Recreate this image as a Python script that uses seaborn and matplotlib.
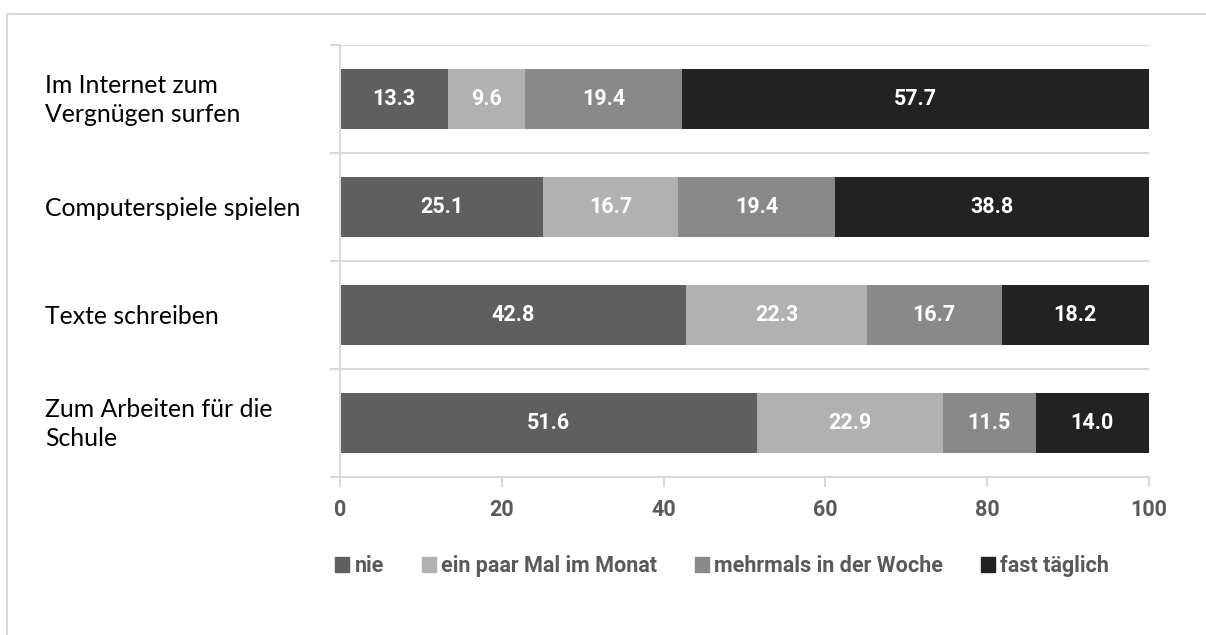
import matplotlib
matplotlib.use("Agg")
import matplotlib.pyplot as plt
import matplotlib.patches as mpatches
import numpy as np
import pandas as pd
import seaborn as sns

sns.set_theme(style="white")
plt.rcParams['font.family'] = ['Lato', 'DejaVu Sans']
BOLD = ['Roboto', 'DejaVu Sans']

categories = ["Im Internet zum\nVergnügen surfen", "Computerspiele spielen",
              "Texte schreiben", "Zum Arbeiten für die\nSchule"]
series = ["nie", "ein paar Mal im Monat", "mehrmals in der Woche", "fast täglich"]
nie = [13.3, 25.1, 42.8, 51.6]
paar_mal = [9.6, 16.7, 22.3, 22.9]
mehrmals = [19.4, 19.4, 16.7, 11.5]
taeglich = [57.7, 38.8, 18.2, 14.0]
colors = ["#5f5f5f", "#b1b1b1", "#898989", "#222222"]

df = pd.DataFrame({"cat": categories, series[0]: nie, series[1]: paar_mal,
                   series[2]: mehrmals, series[3]: taeglich})
cum = df[series].cumsum(axis=1)

W, H = 1206, 635
fig = plt.figure(figsize=(W / 100, H / 100), dpi=100)
ax = fig.add_axes([340 / W, 1 - 477 / H, 809 / W, 432 / H])

# stacked bars: draw cumulative totals from the back to the front
for s, c in reversed(list(zip(series, colors))):
    sns.barplot(x=cum[s], y=df["cat"], orient="h", color=c, saturation=1,
                width=0.555, linewidth=0, ax=ax, label=s)

for i in range(len(categories)):
    for s in series:
        v = df[s][i]
        ax.text(cum[s][i] - v / 2, i, f"{v:.1f}", ha="center", va="center",
                color="white", fontsize=15.5, fontweight="bold", family=BOLD)
    ax.text(45 / W, 1 - (100 + 108 * i) / H, categories[i], transform=fig.transFigure,
            ha="left", va="center", fontsize=17.8, color="black", linespacing=1.33)

grey = "#d9d9d9"
ax.set_xlim(0, 100)
ax.set_ylim(3.5, -0.5)
ax.set_xticks([0, 20, 40, 60, 80, 100])
ax.set_yticks([0, 1, 2, 3])
ax.set_yticklabels([])
ax.set_yticks([-0.5, 0.5, 1.5, 2.5, 3.5], minor=True)
ax.tick_params(axis="y", which="major", length=0)
ax.tick_params(axis="y", which="minor", length=7, color=grey, width=1.5, left=True)
ax.tick_params(axis="x", length=7, color=grey, width=1.5, bottom=True,
               labelsize=15.5, labelcolor="#595959", pad=9)
for lab in ax.get_xticklabels():
    lab.set_fontweight("bold")
    lab.set_family(BOLD)
ax.grid(axis="y", which="minor", color=grey, linewidth=1.5)
ax.set_axisbelow(True)
for side in ["top", "right"]:
    ax.spines[side].set_visible(False)
for side in ["left", "bottom"]:
    ax.spines[side].set_color(grey)
    ax.spines[side].set_linewidth(1.5)
ax.set_xlabel("")
ax.set_ylabel("")

if ax.legend_:
    ax.legend_.remove()
handles = [mpatches.Patch(color=c, label=s) for s, c in zip(series, colors)]
leg = fig.legend(handles=handles, loc="center", bbox_to_anchor=(722 / W, 1 - 566 / H),
                 ncol=4, frameon=False, handlelength=0.65, handleheight=0.65,
                 handletextpad=0.25, columnspacing=1.75,
                 prop={"family": BOLD, "weight": "bold", "size": 15.5})
for t in leg.get_texts():
    t.set_color("#595959")

fig.patches.append(mpatches.Rectangle((7 / W, -0.5), 2, 1.5 - 14 / H,
                                      transform=fig.transFigure, fill=False,
                                      edgecolor=grey, linewidth=1.5))

fig.savefig("out.png", dpi=100)
